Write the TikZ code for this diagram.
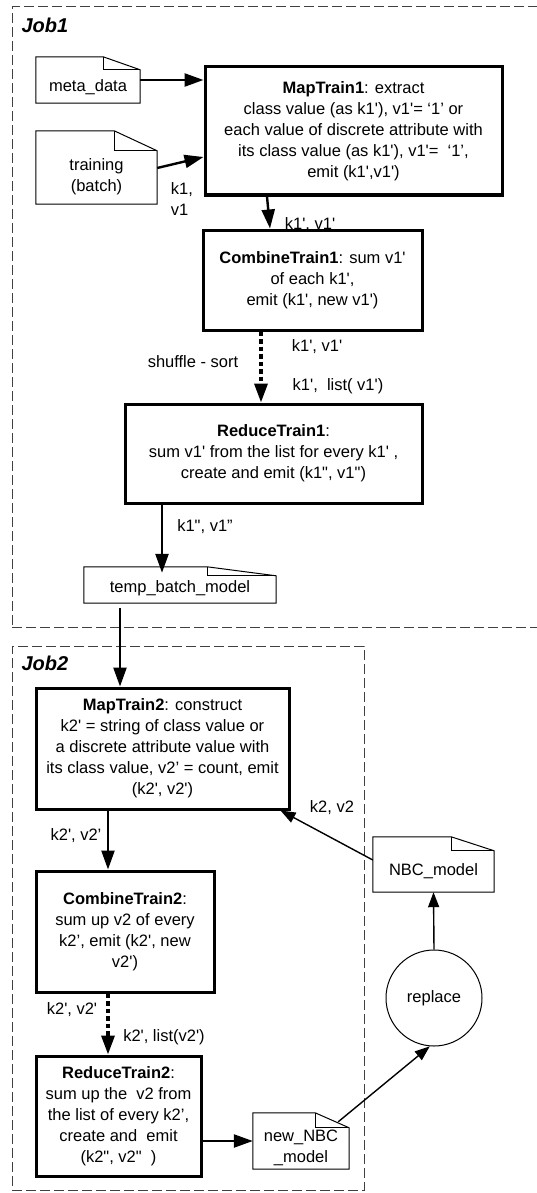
\documentclass[tikz,border=0pt]{standalone}
\usepackage{fontspec}
\setmainfont{Liberation Sans}[Ligatures=TeXOff]
\usepackage{tikz}
\usetikzlibrary{positioning}
\usetikzlibrary{arrows.meta}

\newcommand{\docfold}[4]{%
	\draw [line width=1pt] (#1.south west) -- ([yshift=#4]#1.north west) -- ([xshift=-#2,yshift=#4]#1.north east) -- ([yshift={#4-#3}]#1.north east) -- (#1.south east) -- cycle;
	\draw [line width=1pt] ([xshift=-#2,yshift=#4]#1.north east) -- ([xshift=-#2,yshift={#4-#3}]#1.north east) -- ([yshift={#4-#3}]#1.north east);
}

\begin{document}
\begin{tikzpicture}[x=1pt, y=-1pt,
						every node/.style={font=\fontsize{16.5}{21}\selectfont},
						proc/.style={draw, line width=3pt, align=center, inner sep=3pt},
						doc/.style={align=center, inner sep=2pt},
						job/.style={draw=black!75, line width=1pt, dash pattern=on 10pt off 4pt},
						jobname/.style={font=\fontsize{20}{24}\selectfont\bfseries\itshape, anchor=west},
						flow/.style={-{Triangle[length=19pt,width=13pt]}, line width=2.4pt},
						shuffle/.style={flow, dash pattern=on 4.5pt off 3pt, line width=3.4pt},
						feed/.style={-{Triangle[length=15pt,width=11pt]}, line width=1.4pt}]
		\useasboundingbox (0,0) rectangle (537,1193);
		\node [job, minimum width=548pt, minimum height=620pt] (job1) at (286,317) {};
		\node [job, minimum width=352pt, minimum height=544pt] (job2) at (188,918) {};
		\node [jobname] (job1name) at (18,25) {Job1};
		\node [jobname] (job2name) at (18,663) {Job2};
		\node [doc, minimum width=104pt, minimum height=32pt] (metadata) at (88,87) {meta\_data};
		\node [doc, minimum width=121pt, minimum height=55pt] (training) at (96.5,176.5) {training\\(batch)};
		\node [proc, minimum width=297pt, minimum height=128pt] (maptrain1) at (353.5,131) {\textbf{MapTrain1}: extract\\class value (as k1'), v1'= ‘1’ or\\each value of discrete attribute with\\its class value (as k1'), v1'=\ \ ‘1’,\\emit (k1',v1')};
		\node [proc, minimum width=219pt, minimum height=100pt] (combinetrain1) at (312.5,280) {\textbf{CombineTrain1}: sum v1'\\of each k1',\\emit (k1', new v1')};
		\node [proc, minimum width=297pt, minimum height=99pt] (reducetrain1) at (273.5,453.5) {\textbf{ReduceTrain1}:\\sum v1' from the list for every k1' ,\\create and emit (k1", v1")};
		\node [doc, minimum width=192pt, minimum height=30pt] (tempmodel) at (180,588) {temp\_batch\_model};
		\node [proc, minimum width=253pt, minimum height=121pt] (maptrain2) at (162.5,748.5) {\textbf{MapTrain2}: construct\\k2' = string of class value or\\a discrete attribute value with\\its class value, v2’ = count, emit\\(k2', v2')};
		\node [proc, minimum width=178pt, minimum height=121pt] (combinetrain2) at (125,931.5) {\textbf{CombineTrain2}:\\sum up v2 of every\\k2’, emit (k2', new\\v2')};
		\node [proc, minimum width=165pt, minimum height=120pt] (reducetrain2) at (118.5,1116) {\textbf{ReduceTrain2}:\\sum up the\ \ v2 from\\the list of every k2’,\\create and\ \ emit\\(k2", v2"\ \ )};
		\node [doc, minimum width=96pt, minimum height=42pt] (newmodel) at (301,1148) {new\_NBC\\\_model};
		\node [draw, circle, line width=1pt, minimum size=96pt] (replace) at (434,998) {replace};
		\node [doc, minimum width=121pt, minimum height=42pt] (nbcmodel) at (433.5,871) {NBC\_model};
		\docfold{metadata}{37pt}{13pt}{14pt}
		\docfold{training}{43pt}{20pt}{18pt}
		\docfold{tempmodel}{69pt}{9pt}{6pt}
		\docfold{newmodel}{34pt}{15pt}{14pt}
		\docfold{nbcmodel}{43pt}{14pt}{13pt}
		\node [align=left] (inkv) at (182,199) {k1,\\v1};
		\node (mapkv1) at (310,225) {k1', v1'};
		\node (combkv1) at (317,347) {k1', v1'};
		\node (shufflesort) at (193,362) {shuffle - sort};
		\node (listkv1) at (338,386) {k1',\ \ list( v1')};
		\node (redkv1) at (205,527) {k1", v1”};
		\node (mapkv2) at (76,836) {k2', v2’};
		\node (combkv2) at (72,1010) {k2', v2'};
		\node (listkv2) at (164,1037) {k2', list(v2')};
		\node (modelkv2) at (332,808) {k2, v2};
		\path [flow]
			([yshift=7pt]metadata.east) edge [] ([yshift=7pt]metadata.east -| maptrain1.west)
			([yshift=8.5pt]training.east) edge [] ([yshift=-26pt]maptrain1.west)
			([xshift=-86.5pt]maptrain1.south) edge [] ([xshift=-42.5pt]combinetrain1.north)
			([xshift=-51.5pt]combinetrain1.south) edge [shuffle] ([xshift=-51.5pt]combinetrain1.south |- reducetrain1.north)
			([xshift=-111.5pt]reducetrain1.south) edge [] ([xshift=-111.5pt]reducetrain1.south |- tempmodel.north)
			([xshift=-60pt,yshift=-5pt]tempmodel.south) edge [] ([xshift=-60pt]tempmodel.south |- maptrain2.north)
			([xshift=-54.5pt]maptrain2.south) edge [] ([xshift=-54.5pt]maptrain2.south |- combinetrain2.north)
			([xshift=-17pt]combinetrain2.south) edge [shuffle] ([xshift=-17pt]combinetrain2.south |- reducetrain2.north)
			([yshift=-25pt]reducetrain2.east) edge [] ([yshift=-25pt]reducetrain2.east -| newmodel.west);
		\path [feed]
			([xshift=-11pt,yshift=5pt]newmodel.north east) edge [] (replace.-95)
			(replace.north) edge [] (nbcmodel.south)
			([yshift=11pt]nbcmodel.west) edge [] ([xshift=-10pt]maptrain2.south east);
	\end{tikzpicture}
\end{document}
